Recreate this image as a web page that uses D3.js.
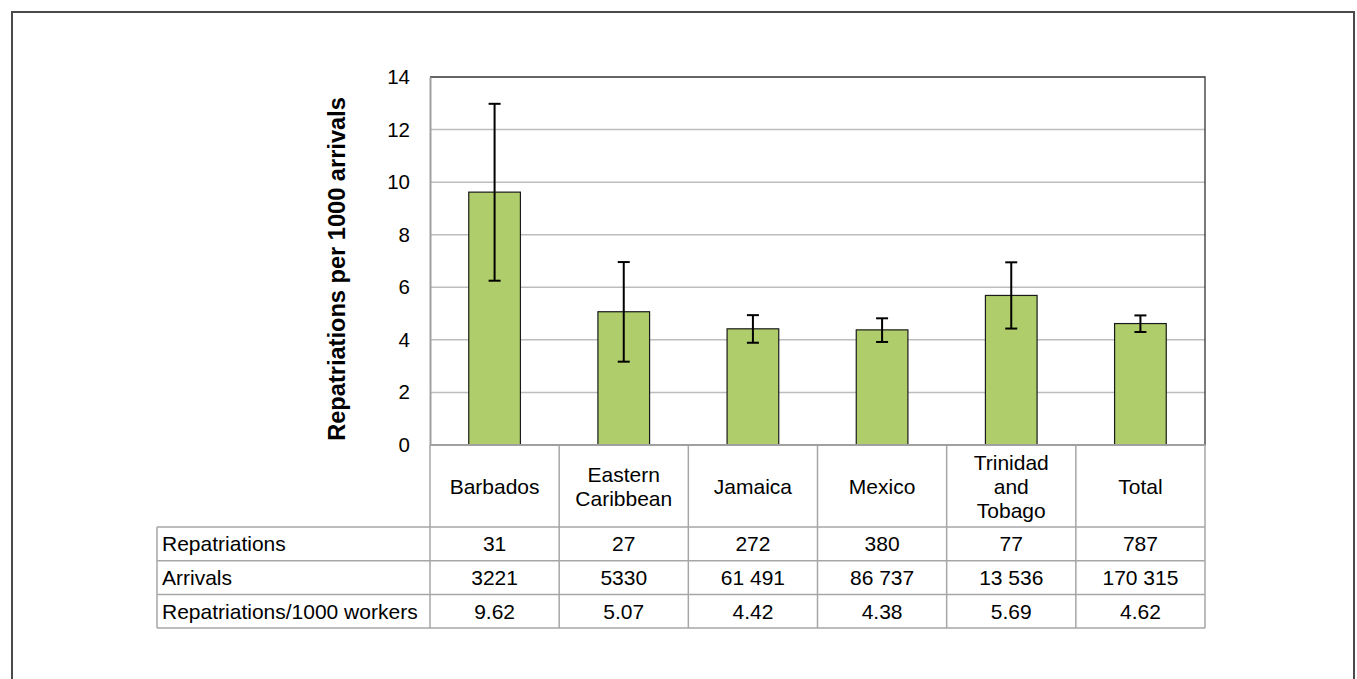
<!DOCTYPE html>
<html>
<head>
<meta charset="utf-8">
<script src="https://cdn.jsdelivr.net/npm/d3@7"></script>
<style>
  body { margin: 0; background: #fff; }
  text { font-family: "Liberation Sans", Arial, sans-serif; fill: #000; }
</style>
</head>
<body>
<svg id="chart" width="1357" height="679"></svg>
<script>
// values
var categories = ["Barbados", "Eastern Caribbean", "Jamaica", "Mexico", "Trinidad and Tobago", "Total"];
var categoryLines = [["Barbados"], ["Eastern", "Caribbean"], ["Jamaica"], ["Mexico"], ["Trinidad", "and", "Tobago"], ["Total"]];
var rates = [9.62, 5.07, 4.42, 4.38, 5.69, 4.62];
var errLow = [6.25, 3.17, 3.89, 3.92, 4.43, 4.30];
var errHigh = [12.98, 6.96, 4.94, 4.82, 6.95, 4.93];
var yTicks = [0, 2, 4, 6, 8, 10, 12, 14];

var rowLabels = ["Repatriations", "Arrivals", "Repatriations/1000 workers"];
var repatriations = ["31", "27", "272", "380", "77", "787"];
var arrivals = ["3221", "5330", "61 491", "86 737", "13 536", "170 315"];
var rateLabels = ["9.62", "5.07", "4.42", "4.38", "5.69", "4.62"];
var tableRows = [repatriations, arrivals, rateLabels];

var svg = d3.select("#chart");
var tickFont = "20.5px", tableFont = "21px";

// outer frame (top, left, right)
svg.append("path")
    .attr("d", "M12,690 L12,12 L1354,12 L1354,690")
    .attr("fill", "none")
    .attr("stroke", "#4a4a4a")
    .attr("stroke-width", 2);

var plotLeft = 430, plotRight = 1205, plotTop = 77, plotBottom = 445;

var y = d3.scaleLinear().domain([0, 14]).range([plotBottom, plotTop]);
var x = d3.scaleBand().domain(categories).range([plotLeft, plotRight])
    .paddingInner(0.6).paddingOuter(0.3);
var cell = d3.scaleBand().domain(categories).range([plotLeft, plotRight]);

// gridlines
svg.append("g").selectAll("line")
    .data(yTicks.filter(function(t){ return t > 0 && t < 14; }))
    .enter().append("line")
    .attr("x1", plotLeft).attr("x2", plotRight)
    .attr("y1", function(d){ return y(d); })
    .attr("y2", function(d){ return y(d); })
    .attr("stroke", "#bdbdbd")
    .attr("stroke-width", 1.5);

// plot border: top and right dark
svg.append("path")
    .attr("d", "M" + plotLeft + "," + plotTop + " L" + plotRight + "," + plotTop + " L" + plotRight + "," + plotBottom)
    .attr("fill", "none")
    .attr("stroke", "#333")
    .attr("stroke-width", 1.3);

// y axis
var yAxis = svg.append("g")
    .attr("transform", "translate(" + plotLeft + ",0)")
    .call(d3.axisLeft(y).tickValues(yTicks).tickSize(0).tickPadding(20));
yAxis.select(".domain").attr("stroke", "#a0a0a0").attr("stroke-width", 2);
yAxis.selectAll("text")
    .style("font-family", "'Liberation Sans', Arial, sans-serif")
    .style("font-size", tickFont)
    .attr("fill", "#000");

svg.append("text")
    .attr("transform", "translate(345," + ((plotTop + plotBottom) / 2 + 8) + ") rotate(-90)")
    .attr("text-anchor", "middle")
    .style("font-size", "23.6px")
    .style("font-weight", "bold")
    .text("Repatriations per 1000 arrivals");

// bars
svg.append("g").selectAll("rect")
    .data(rates)
    .enter().append("rect")
    .attr("x", function(d, i){ return x(categories[i]); })
    .attr("y", function(d){ return y(d); })
    .attr("width", x.bandwidth())
    .attr("height", function(d){ return y(0) - y(d); })
    .attr("fill", "#afcd6b")
    .attr("stroke", "#1a1a1a")
    .attr("stroke-width", 1.2);

// error bars
var eb = svg.append("g").selectAll("g")
    .data(categories)
    .enter().append("g")
    .attr("stroke", "#000")
    .attr("stroke-width", 2);
eb.append("line")
    .attr("x1", function(d){ return x(d) + x.bandwidth() / 2; })
    .attr("x2", function(d){ return x(d) + x.bandwidth() / 2; })
    .attr("y1", function(d, i){ return y(errLow[i]); })
    .attr("y2", function(d, i){ return y(errHigh[i]); });
eb.selectAll("line.cap")
    .data(function(d, i){ return [[d, errLow[i]], [d, errHigh[i]]]; })
    .enter().append("line")
    .attr("class", "cap")
    .attr("x1", function(d){ return x(d[0]) + x.bandwidth() / 2 - 6; })
    .attr("x2", function(d){ return x(d[0]) + x.bandwidth() / 2 + 6; })
    .attr("y1", function(d){ return y(d[1]); })
    .attr("y2", function(d){ return y(d[1]); });

// data table under the chart
var tableLeft = 157, headerBottom = 527, rowH = 33.7;
var gridColor = "#a6a6a6";
var tbl = svg.append("g");

// header vertical lines
categories.forEach(function(c){
    tbl.append("line")
        .attr("x1", cell(c)).attr("x2", cell(c))
        .attr("y1", plotBottom).attr("y2", headerBottom)
        .attr("stroke", gridColor).attr("stroke-width", 1.5);
});
tbl.append("line")
    .attr("x1", plotRight).attr("x2", plotRight)
    .attr("y1", plotBottom).attr("y2", headerBottom + rowH * 3)
    .attr("stroke", gridColor).attr("stroke-width", 1.5);
// bottom axis line
tbl.append("line")
    .attr("x1", plotLeft).attr("x2", plotRight)
    .attr("y1", plotBottom).attr("y2", plotBottom)
    .attr("stroke", "#a0a0a0").attr("stroke-width", 2);

// header labels
categoryLines.forEach(function(lines, i){
    var cx = cell(categories[i]) + cell.bandwidth() / 2;
    var cy = (plotBottom + headerBottom) / 2;
    var lh = 24;
    lines.forEach(function(t, j){
        tbl.append("text")
            .attr("x", cx)
            .attr("y", cy + (j - (lines.length - 1) / 2) * lh)
            .attr("dy", "0.36em")
            .attr("text-anchor", "middle")
            .style("font-size", tableFont)
            .text(t);
    });
});

// body rows
rowLabels.forEach(function(lab, r){
    var y0 = headerBottom + r * rowH;
    tbl.append("line")
        .attr("x1", tableLeft).attr("x2", plotRight)
        .attr("y1", y0).attr("y2", y0)
        .attr("stroke", gridColor).attr("stroke-width", 1.5);
    tbl.append("text")
        .attr("x", tableLeft + 5)
        .attr("y", y0 + rowH / 2)
        .attr("dy", "0.36em")
        .style("font-size", tableFont)
        .text(lab);
    tableRows[r].forEach(function(v, i){
        tbl.append("text")
            .attr("x", cell(categories[i]) + cell.bandwidth() / 2)
            .attr("y", y0 + rowH / 2)
            .attr("dy", "0.36em")
            .attr("text-anchor", "middle")
            .style("font-size", tableFont)
            .text(v);
    });
});
tbl.append("line")
    .attr("x1", tableLeft).attr("x2", plotRight)
    .attr("y1", headerBottom + rowH * 3).attr("y2", headerBottom + rowH * 3)
    .attr("stroke", gridColor).attr("stroke-width", 1.5);
// vertical lines of body
[tableLeft].concat(categories.map(function(c){ return cell(c); })).forEach(function(vx){
    tbl.append("line")
        .attr("x1", vx).attr("x2", vx)
        .attr("y1", headerBottom).attr("y2", headerBottom + rowH * 3)
        .attr("stroke", gridColor).attr("stroke-width", 1.5);
});
</script>
</body>
</html>
